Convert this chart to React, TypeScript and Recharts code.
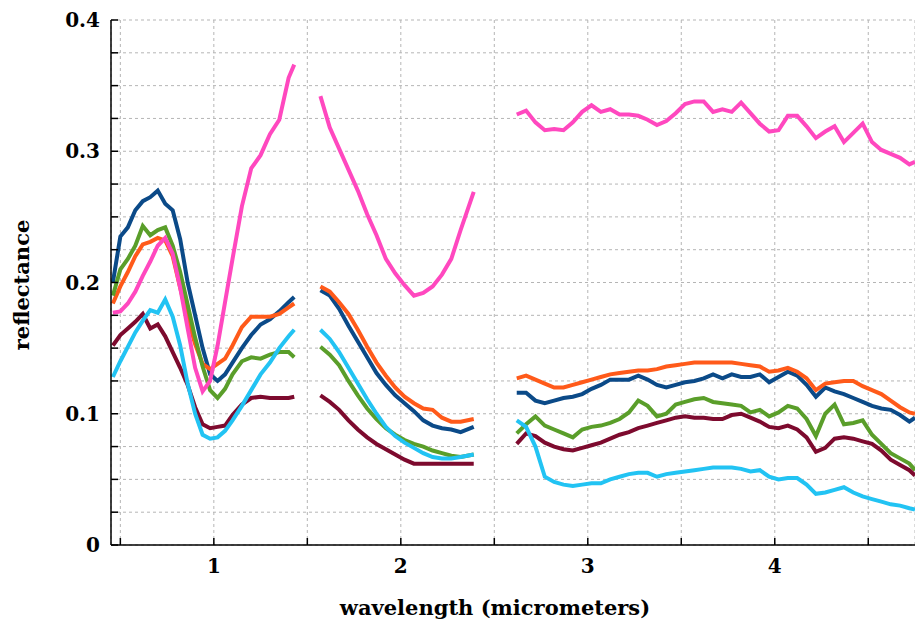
import React from "react";
import {
  LineChart,
  Line,
  XAxis,
  YAxis,
  CartesianGrid,
  Label,
} from "recharts";

// wavelength grid (µm); 1.5 and 2.5 are the gaps between the three bands
const wavelength = [
  0.46, 0.5, 0.54, 0.58, 0.62, 0.66, 0.7, 0.74, 0.78, 0.82, 0.86, 0.9, 0.94, 0.98, 1.02, 1.06, 1.1, 1.15, 1.2, 1.25, 1.3, 1.35, 1.4, 1.43,
  1.5,
  1.57, 1.62, 1.67, 1.72, 1.77, 1.82, 1.87, 1.92, 1.97, 2.02, 2.07, 2.12, 2.17, 2.22, 2.27, 2.32, 2.39,
  2.5,
  2.62, 2.67, 2.72, 2.77, 2.82, 2.87, 2.92, 2.97, 3.02, 3.07, 3.12, 3.17, 3.22, 3.27, 3.32, 3.37, 3.42, 3.47, 3.52, 3.57, 3.62, 3.67,
  3.72, 3.77, 3.82, 3.87, 3.92, 3.97, 4.02, 4.07, 4.12, 4.17, 4.22, 4.27, 4.32, 4.37, 4.42, 4.47, 4.52, 4.57, 4.62, 4.67, 4.72, 4.75,
];

const pink = [
  0.177, 0.178, 0.184, 0.193, 0.205, 0.216, 0.228, 0.234, 0.222, 0.196, 0.165, 0.135, 0.117, 0.125, 0.152, 0.185, 0.218, 0.258, 0.287, 0.297, 0.313, 0.324, 0.356, 0.366,
  null,
  0.342, 0.318, 0.302, 0.286, 0.27, 0.252, 0.236, 0.218, 0.207, 0.198, 0.19, 0.192, 0.197, 0.206, 0.218, 0.24, 0.269,
  null,
  0.328, 0.331, 0.322, 0.316, 0.317, 0.316, 0.322, 0.33, 0.335, 0.33, 0.332, 0.328, 0.328, 0.327, 0.324, 0.32, 0.323, 0.329, 0.336, 0.338, 0.338, 0.33,
  0.332, 0.33, 0.337, 0.329, 0.321, 0.315, 0.316, 0.327, 0.327, 0.319, 0.31, 0.315, 0.319, 0.307, 0.314, 0.321, 0.307, 0.301, 0.298, 0.295, 0.29, 0.292,
];

const darkBlue = [
  0.2, 0.235, 0.242, 0.255, 0.262, 0.265, 0.27, 0.26, 0.255, 0.233, 0.2, 0.175, 0.15, 0.13, 0.125, 0.13, 0.139, 0.15, 0.16, 0.168, 0.172, 0.178, 0.185, 0.189,
  null,
  0.194, 0.19, 0.18, 0.167, 0.155, 0.143, 0.131, 0.122, 0.114, 0.108, 0.102, 0.095, 0.091, 0.089, 0.088, 0.086, 0.09,
  null,
  0.116, 0.116, 0.11, 0.108, 0.11, 0.112, 0.113, 0.115, 0.119, 0.122, 0.126, 0.126, 0.126, 0.129, 0.126, 0.122, 0.12, 0.122, 0.124, 0.125, 0.127, 0.13,
  0.127, 0.13, 0.128, 0.128, 0.13, 0.124, 0.128, 0.132, 0.129, 0.122, 0.113, 0.12, 0.117, 0.115, 0.112, 0.109, 0.106, 0.104, 0.103, 0.099, 0.094, 0.097,
];

const orange = [
  0.184, 0.197, 0.208, 0.22, 0.229, 0.231, 0.234, 0.232, 0.22, 0.196, 0.173, 0.153, 0.138, 0.134, 0.138, 0.142, 0.152, 0.166, 0.174, 0.174, 0.174, 0.176, 0.181, 0.184,
  null,
  0.197, 0.193, 0.185, 0.176, 0.164, 0.151, 0.139, 0.129, 0.12, 0.113, 0.108, 0.104, 0.103, 0.097, 0.094, 0.094, 0.096,
  null,
  0.127, 0.129, 0.126, 0.123, 0.12, 0.12, 0.122, 0.124, 0.126, 0.128, 0.13, 0.131, 0.132, 0.133, 0.133, 0.134, 0.136, 0.137, 0.138, 0.139, 0.139, 0.139,
  0.139, 0.139, 0.138, 0.137, 0.136, 0.132, 0.133, 0.135, 0.132, 0.127, 0.118, 0.123, 0.124, 0.125, 0.125, 0.121, 0.118, 0.115, 0.11, 0.105, 0.101, 0.1,
];

const green = [
  0.19, 0.21, 0.218, 0.228, 0.243, 0.236, 0.24, 0.242, 0.228, 0.208, 0.183, 0.158, 0.136, 0.118, 0.112, 0.119, 0.13, 0.14, 0.143, 0.142, 0.145, 0.147, 0.147, 0.143,
  null,
  0.151, 0.145, 0.137, 0.125, 0.114, 0.104, 0.096, 0.089, 0.084, 0.08, 0.077, 0.075, 0.072, 0.07, 0.068, 0.067, 0.069,
  null,
  0.085, 0.092, 0.098, 0.091, 0.088, 0.085, 0.082, 0.088, 0.09, 0.091, 0.093, 0.096, 0.101, 0.11, 0.106, 0.098, 0.1, 0.107, 0.109, 0.111, 0.112, 0.109,
  0.108, 0.107, 0.106, 0.101, 0.103, 0.098, 0.101, 0.106, 0.104, 0.096, 0.083, 0.1, 0.107, 0.092, 0.093, 0.095, 0.084, 0.077, 0.07, 0.066, 0.062, 0.057,
];

const cyan = [
  0.128, 0.14, 0.151, 0.162, 0.171, 0.179, 0.177, 0.187, 0.174, 0.152, 0.123, 0.1, 0.084, 0.081, 0.082, 0.087, 0.095, 0.106, 0.118, 0.13, 0.139, 0.15, 0.159, 0.164,
  null,
  0.164, 0.157, 0.147, 0.135, 0.123, 0.111, 0.1, 0.09, 0.083, 0.078, 0.074, 0.07, 0.067, 0.066, 0.066, 0.067, 0.069,
  null,
  0.095, 0.09, 0.075, 0.052, 0.048, 0.046, 0.045, 0.046, 0.047, 0.047, 0.05, 0.052, 0.054, 0.055, 0.055, 0.052, 0.054, 0.055, 0.056, 0.057, 0.058, 0.059,
  0.059, 0.059, 0.058, 0.056, 0.057, 0.052, 0.05, 0.051, 0.051, 0.046, 0.039, 0.04, 0.042, 0.044, 0.04, 0.037, 0.035, 0.033, 0.031, 0.03, 0.028, 0.027,
];

const maroon = [
  0.152, 0.16, 0.165, 0.17, 0.176, 0.165, 0.168, 0.159, 0.147, 0.135, 0.122, 0.105, 0.092, 0.089, 0.09, 0.091, 0.099, 0.107, 0.112, 0.113, 0.112, 0.112, 0.112, 0.113,
  null,
  0.114, 0.109, 0.103, 0.095, 0.088, 0.082, 0.077, 0.073, 0.069, 0.065, 0.062, 0.062, 0.062, 0.062, 0.062, 0.062, 0.062,
  null,
  0.077, 0.085, 0.083, 0.078, 0.075, 0.073, 0.072, 0.074, 0.076, 0.078, 0.081, 0.084, 0.086, 0.089, 0.091, 0.093, 0.095, 0.097, 0.098, 0.097, 0.097, 0.096,
  0.096, 0.099, 0.1, 0.097, 0.094, 0.09, 0.089, 0.091, 0.088, 0.082, 0.071, 0.074, 0.081, 0.082, 0.081, 0.079, 0.077, 0.072, 0.065, 0.061, 0.057, 0.053,
];

const xTicks = [0.5, 1, 1.5, 2, 2.5, 3, 3.5, 4, 4.5];
const yTicks = [0, 0.025, 0.05, 0.075, 0.1, 0.125, 0.15, 0.175, 0.2, 0.225, 0.25, 0.275, 0.3, 0.325, 0.35, 0.375, 0.4];

const data = wavelength.map((wl, i) => ({
  wl,
  pink: pink[i],
  darkBlue: darkBlue[i],
  orange: orange[i],
  green: green[i],
  cyan: cyan[i],
  maroon: maroon[i],
}));

const series = [
  { key: "darkBlue", color: "#0b4a88" },
  { key: "orange", color: "#ff5a1a" },
  { key: "green", color: "#5a9e2a" },
  { key: "maroon", color: "#7d0a2e" },
  { key: "cyan", color: "#22c3f3" },
  { key: "pink", color: "#ff48bf" },
];

const FONT = "'DejaVu Serif', serif";
const tickStyle = { fill: "#000", fontFamily: FONT, fontWeight: "bold", fontSize: 20 };

const formatY = (v: number) => {
  const t = v * 10;
  if (Math.abs(t - Math.round(t)) > 1e-6) return "";
  return v === 0 ? "0" : v.toFixed(1);
};
const formatX = (v: number) => (Number.isInteger(v) ? String(v) : "");

export default function App() {
  return (
    <div style={{ position: "absolute", left: 0, top: 0, background: "#fff" }}>
      <LineChart
        width={915}
        height={623}
        data={data}
        margin={{ top: 20, right: 0, left: 0, bottom: 0 }}
      >
        <CartesianGrid stroke="#b5b5b5" strokeDasharray="3 3" />
        <XAxis
          dataKey="wl"
          type="number"
          domain={[0.45, 4.75]}
          allowDataOverflow
          ticks={xTicks}
          tickFormatter={formatX}
          height={78}
          tickSize={-7}
          tickMargin={21}
          tick={tickStyle}
          axisLine={{ stroke: "#000", strokeWidth: 1.5 }}
          tickLine={{ stroke: "#000", strokeWidth: 1.5 }}
        >
          <Label
            content={() => (
              <text x={495} y={615} textAnchor="middle" fontFamily={FONT} fontWeight="bold" fontSize={21} fill="#000">
                wavelength (micrometers)
              </text>
            )}
          />
        </XAxis>
        <YAxis
          type="number"
          domain={[0, 0.4]}
          ticks={yTicks}
          tickFormatter={formatY}
          width={111}
          tickSize={-7}
          tickMargin={18}
          tick={tickStyle}
          axisLine={{ stroke: "#000", strokeWidth: 1.5 }}
          tickLine={{ stroke: "#000", strokeWidth: 1.5 }}
        >
          <Label
            content={() => (
              <text x={29} y={285} transform="rotate(-90 29 285)" textAnchor="middle" fontFamily={FONT} fontWeight="bold" fontSize={21} fill="#000">
                reflectance
              </text>
            )}
          />
        </YAxis>
        {series.map((s) => (
          <Line
            key={s.key}
            dataKey={s.key}
            stroke={s.color}
            strokeWidth={4}
            dot={false}
            activeDot={false}
            connectNulls={false}
            isAnimationActive={false}
          />
        ))}
      </LineChart>
    </div>
  );
}
